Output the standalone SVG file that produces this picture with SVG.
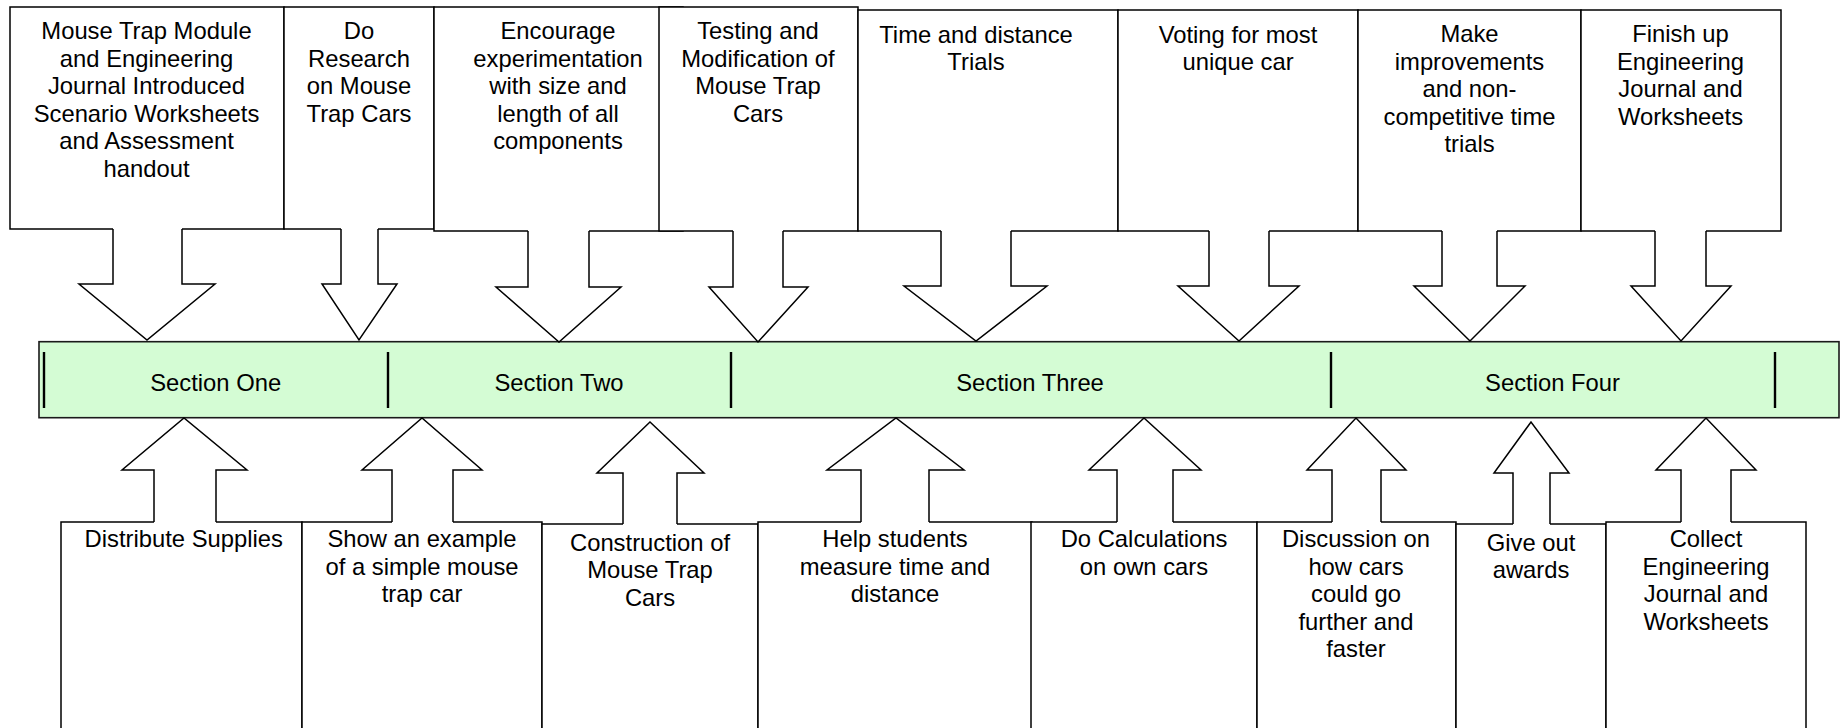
<svg xmlns="http://www.w3.org/2000/svg" width="1842" height="728" viewBox="0 0 1842 728">
<style>
.box{fill:#fff;stroke:#000;stroke-width:1.5;stroke-linejoin:miter}
.arr{fill:#fff;stroke:#000;stroke-width:1.5;stroke-linejoin:miter}
.bar{fill:#d4fcd4;stroke:#1a1a1a;stroke-width:1.6}
.div{stroke:#000;stroke-width:2.4}
.t{font-family:"Liberation Sans",Arial,sans-serif;font-size:23.8px;text-anchor:middle;fill:#000}
</style>
<rect width="1842" height="728" fill="#fff"/>

<g id="top-1">
<path class="box" d="M113,229 H10 V7 H284 V229 H182"/>
<text class="t"><tspan x="146.5" y="39.3">Mouse Trap Module</tspan><tspan x="146.5" y="66.8">and Engineering</tspan><tspan x="146.5" y="94.3">Journal Introduced</tspan><tspan x="146.5" y="121.8">Scenario Worksheets</tspan><tspan x="146.5" y="149.3">and Assessment</tspan><tspan x="146.5" y="176.8">handout</tspan></text>
</g>
<g id="top-2">
<path class="box" d="M341,229 H284 V7 H434 V229 H378"/>
<text class="t"><tspan x="359" y="39.3">Do</tspan><tspan x="359" y="66.8">Research</tspan><tspan x="359" y="94.3">on Mouse</tspan><tspan x="359" y="121.8">Trap Cars</tspan></text>
</g>
<g id="top-3">
<path class="box" d="M528,231 H434 V7 H683 V231 H589"/>
<text class="t"><tspan x="558" y="39.3">Encourage</tspan><tspan x="558" y="66.8">experimentation</tspan><tspan x="558" y="94.3">with size and</tspan><tspan x="558" y="121.8">length of all</tspan><tspan x="558" y="149.3">components</tspan></text>
</g>
<g id="top-4">
<path class="box" d="M733,231 H659 V7 H858 V231 H783"/>
<text class="t"><tspan x="758" y="39.3">Testing and</tspan><tspan x="758" y="66.8">Modification of</tspan><tspan x="758" y="94.3">Mouse Trap</tspan><tspan x="758" y="121.8">Cars</tspan></text>
</g>
<g id="top-5">
<path class="box" d="M941,231 H858 V10 H1118 V231 H1011"/>
<text class="t"><tspan x="976" y="42.7">Time and distance</tspan><tspan x="976" y="70.2">Trials</tspan></text>
</g>
<g id="top-6">
<path class="box" d="M1209,231 H1118 V10 H1358 V231 H1269"/>
<text class="t"><tspan x="1238" y="42.7">Voting for most</tspan><tspan x="1238" y="70.2">unique car</tspan></text>
</g>
<g id="top-7">
<path class="box" d="M1442,231 H1358 V10 H1581 V231 H1497"/>
<text class="t"><tspan x="1469.5" y="42.2">Make</tspan><tspan x="1469.5" y="69.7">improvements</tspan><tspan x="1469.5" y="97.2">and non-</tspan><tspan x="1469.5" y="124.7">competitive time</tspan><tspan x="1469.5" y="152.2">trials</tspan></text>
</g>
<g id="top-8">
<path class="box" d="M1655,231 H1581 V10 H1781 V231 H1706"/>
<text class="t"><tspan x="1680.5" y="42.2">Finish up</tspan><tspan x="1680.5" y="69.7">Engineering</tspan><tspan x="1680.5" y="97.2">Journal and</tspan><tspan x="1680.5" y="124.7">Worksheets</tspan></text>
</g>

<g id="timeline">
<rect class="bar" x="39" y="341.7" width="1800" height="76"/>
<line class="div" x1="44" y1="352" x2="44" y2="408"/>
<line class="div" x1="388" y1="352" x2="388" y2="408"/>
<line class="div" x1="731" y1="352" x2="731" y2="408"/>
<line class="div" x1="1331" y1="352" x2="1331" y2="408"/>
<line class="div" x1="1775" y1="352" x2="1775" y2="408"/>
<text class="t" x="215.7" y="391">Section One</text>
<text class="t" x="559" y="391">Section Two</text>
<text class="t" x="1030" y="391">Section Three</text>
<text class="t" x="1552.5" y="391">Section Four</text>
</g>

<g id="bottom-1">
<path class="box" d="M154,522 H61 V745 H302 V522 H216"/>
<text class="t"><tspan x="183.8" y="547.3">Distribute Supplies</tspan></text>
</g>
<g id="bottom-2">
<path class="box" d="M392,522 H302 V745 H542 V522 H453"/>
<text class="t"><tspan x="422" y="547.3">Show an example</tspan><tspan x="422" y="574.8">of a simple mouse</tspan><tspan x="422" y="602.3">trap car</tspan></text>
</g>
<g id="bottom-3">
<path class="box" d="M623,524 H542 V745 H758 V524 H677"/>
<text class="t"><tspan x="650" y="550.7">Construction of</tspan><tspan x="650" y="578.2">Mouse Trap</tspan><tspan x="650" y="605.7">Cars</tspan></text>
</g>
<g id="bottom-4">
<path class="box" d="M861,522 H758 V745 H1032 V522 H929"/>
<text class="t"><tspan x="895" y="547.3">Help students</tspan><tspan x="895" y="574.8">measure time and</tspan><tspan x="895" y="602.3">distance</tspan></text>
</g>
<g id="bottom-5">
<path class="box" d="M1117,522 H1031 V745 H1257 V522 H1173"/>
<text class="t"><tspan x="1144" y="547.3">Do Calculations</tspan><tspan x="1144" y="574.8">on own cars</tspan></text>
</g>
<g id="bottom-6">
<path class="box" d="M1332,522 H1257 V745 H1456 V522 H1381"/>
<text class="t"><tspan x="1356" y="547.3">Discussion on</tspan><tspan x="1356" y="574.8">how cars</tspan><tspan x="1356" y="602.3">could go</tspan><tspan x="1356" y="629.8">further and</tspan><tspan x="1356" y="657.3">faster</tspan></text>
</g>
<g id="bottom-7">
<path class="box" d="M1513,524 H1456 V745 H1606 V524 H1550"/>
<text class="t"><tspan x="1531" y="550.7">Give out</tspan><tspan x="1531" y="578.2">awards</tspan></text>
</g>
<g id="bottom-8">
<path class="box" d="M1681,522 H1606 V745 H1806 V522 H1731"/>
<text class="t"><tspan x="1706" y="547.3">Collect</tspan><tspan x="1706" y="574.8">Engineering</tspan><tspan x="1706" y="602.3">Journal and</tspan><tspan x="1706" y="629.8">Worksheets</tspan></text>
</g>

<g id="connectors">
<path class="arr" d="M113,229 V284 H79 L147,340 L215,284 H182 V229"/>
<path class="arr" d="M341,229 V284 H322 L359,340 L397,284 H378 V229"/>
<path class="arr" d="M528,231 V287 H496 L559,342 L621,287 H589 V231"/>
<path class="arr" d="M733,231 V287 H709 L758,342 L808,287 H783 V231"/>
<path class="arr" d="M941,231 V286 H904 L976,341 L1047,286 H1011 V231"/>
<path class="arr" d="M1209,231 V286 H1178 L1239,341 L1299,286 H1269 V231"/>
<path class="arr" d="M1442,231 V286 H1414 L1470,341 L1525,286 H1497 V231"/>
<path class="arr" d="M1655,231 V286 H1631 L1681,341 L1731,286 H1706 V231"/>
<path class="arr" d="M154,522 V470 H122 L184,418 L247,470 H216 V522"/>
<path class="arr" d="M392,522 V470 H362 L422,418 L482,470 H453 V522"/>
<path class="arr" d="M623,524 V473 H597 L650,422 L704,473 H677 V524"/>
<path class="arr" d="M861,522 V470 H827 L896,418 L964,470 H929 V522"/>
<path class="arr" d="M1117,522 V470 H1089 L1144,418 L1201,470 H1173 V522"/>
<path class="arr" d="M1332,522 V470 H1307 L1356,418 L1406,470 H1381 V522"/>
<path class="arr" d="M1513,524 V473 H1494 L1531,422 L1569,473 H1550 V524"/>
<path class="arr" d="M1681,522 V470 H1656 L1706,418 L1756,470 H1731 V522"/>
</g>
</svg>
